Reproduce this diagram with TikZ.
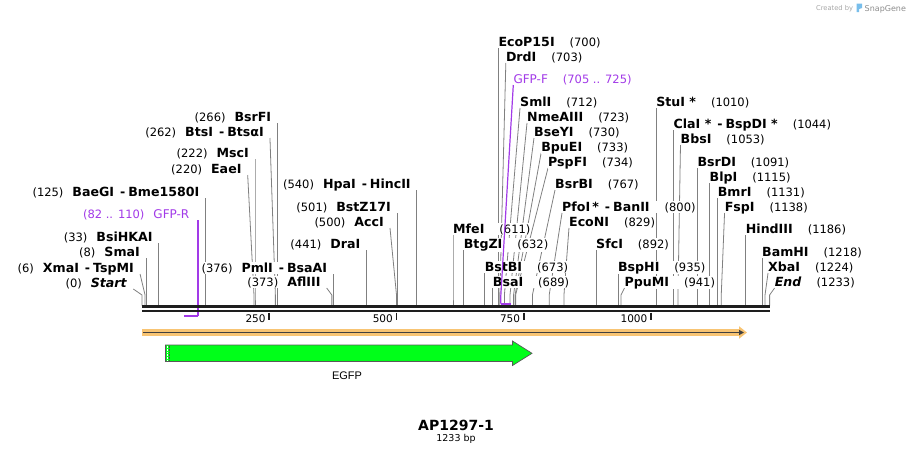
\documentclass[tikz,border=0pt]{standalone}
\usepackage{fontspec}
\setmainfont{DejaVu Sans}
\newfontfamily\featfont{Liberation Sans}
\usetikzlibrary{arrows.meta,positioning}
\pgfdeclarelayer{bg}
\pgfsetlayers{bg,main}
\definecolor{cutgray}{RGB}{128,128,128}
\definecolor{primerpurple}{RGB}{162,58,232}
\definecolor{egfpgreen}{RGB}{0,255,25}
\definecolor{bandorange}{RGB}{248,196,115}
\definecolor{dnablack}{RGB}{30,30,30}
\definecolor{logoblue}{RGB}{120,190,235}
\tikzset{
  enzlbl/.style={inner xsep=0pt, inner ysep=0.8pt, fill=white, font=\fontsize{11.5}{13}\selectfont},
  cutline/.style={draw=cutgray, line width=0.8pt},
  primerline/.style={draw=primerpurple, line width=1.2pt},
  primerbar/.style={draw=primerpurple, line width=2pt},
  dnastrand/.style={draw=dnablack},
  ticklbl/.style={inner sep=0pt, font=\fontsize{10.5}{12}\selectfont},
}
\newcommand{\enz}[1]{{\fontsize{12.6}{14}\selectfont\bfseries #1}}
\newcommand{\isosep}{\hspace{6pt}-\hspace{3pt}}
% site label left of its line: id, bp, x offset of the label end, baseline, name
\newcommand{\siteL}[5]{%
  \pgfmathsetmacro{\sx}{142+0.509*#2}%
  \coordinate (#1-s) at (\sx,305.5);
  \coordinate (#1-b) at (\sx,295);
  \coordinate (#1-a) at ({\sx+#3},{#4+2});
  \node[enzlbl, anchor=base east, xshift=-6pt, yshift=2pt] (#1) at (#1-a) {(#2)\hspace{9pt}\enz{#5}};
  \begin{pgfonlayer}{bg}\draw[cutline] (#1-a) -- (#1-b) -- (#1-s);\end{pgfonlayer}
}
% site label right of its line
\newcommand{\siteR}[5]{%
  \pgfmathsetmacro{\sx}{142+0.509*#2}%
  \coordinate (#1-s) at (\sx,305.5);
  \coordinate (#1-b) at (\sx,295);
  \coordinate (#1-a) at ({\sx+#3},{#4+2});
  \node[enzlbl, anchor=base west, yshift=2pt] (#1) at (#1-a) {\enz{#5}\hspace{15pt}(#2)};
  \begin{pgfonlayer}{bg}\draw[cutline] (#1-a) -- (#1-b) -- (#1-s);\end{pgfonlayer}
}

\begin{document}
\begin{tikzpicture}[x=1pt, y=-1pt]
  \useasboundingbox (0,0) rectangle (913,456);

  % credit
  \node[inner sep=0pt, anchor=base west, font=\fontsize{6.7}{8}\selectfont, text=black!35] (credit) at (816,10.5) {Created by};
  \fill[logoblue] (856.5,3.5) -- (862,3.5) -- (862,8) -- (859,9) -- (859,12) -- (856.5,12) -- cycle;
  \node[inner sep=0pt, anchor=base west, font=\fontsize{8}{9}\selectfont, text=black!45] (snapgene) at (864.5,11) {SnapGene};

  % cut sites, left side
  \siteL{startsite}{0}{-8.7}{287}{\textit{Start}}
  \siteL{xmai}{6}{-5}{272}{XmaI\isosep TspMI}
  \siteL{smai}{8}{0}{256}{SmaI}
  \siteL{bsihkai}{33}{0}{241}{BsiHKAI}
  \siteL{baegi}{125}{0}{196}{BaeGI\isosep Bme1580I}
  \siteL{eaei}{220}{-6.3}{173}{EaeI}
  \siteL{msci}{222}{0}{157}{MscI}
  \siteL{btsi}{262}{-5.4}{136}{BtsI\isosep BtsαI}
  \siteL{bsrfi}{266}{0}{121}{BsrFI}
  \siteL{pmli}{376}{0}{272}{PmlI\isosep BsaAI}
  \siteL{afliii}{373}{-5.2}{286}{AflIII}
  \siteL{drai}{441}{0}{248}{DraI}
  \siteL{acci}{500}{-6.5}{226}{AccI}
  \siteL{bstz}{501}{0}{211}{BstZ17I}
  \siteL{hpai}{540}{0}{188}{HpaI\isosep HincII}

  % cut sites, right side
  \siteR{ecop}{700}{0}{46}{EcoP15I}
  \siteR{drdi}{703}{6}{61}{DrdI}
  \siteR{smli}{712}{15.6}{106}{SmlI}
  \siteR{nmea}{723}{17}{121}{NmeAIII}
  \siteR{bseyi}{730}{20.4}{136}{BseYI}
  \siteR{bpuei}{733}{26}{151}{BpuEI}
  \siteR{pspfi}{734}{32.4}{166}{PspFI}
  \siteR{bsrbi}{767}{22.6}{188}{BsrBI}
  \siteR{pfoi}{800}{12.8}{211}{PfoI\,*\isosep BanII}
  \siteR{econi}{829}{5}{226}{EcoNI}
  \siteR{mfei}{611}{0}{233}{MfeI}
  \siteR{btgzi}{632}{0}{248}{BtgZI}
  \siteR{sfci}{892}{0}{248}{SfcI}
  \siteR{bstbi}{673}{0}{271}{BstBI}
  \siteR{bsai}{689}{0}{286}{BsaI}
  \siteR{bsphi}{935}{0}{271}{BspHI}
  \siteR{ppumi}{941}{3.5}{286}{PpuMI}
  \siteR{stui}{1010}{0}{106}{StuI *}
  \siteR{clai}{1044}{0}{128}{ClaI *\isosep BspDI *}
  \siteR{bbsi}{1053}{2.5}{143}{BbsI}
  \siteR{bsrdi}{1091}{0}{166}{BsrDI}
  \siteR{blpi}{1115}{0}{181}{BlpI}
  \siteR{bmri}{1131}{0}{196}{BmrI}
  \siteR{fspi}{1138}{3.3}{211}{FspI}
  \siteR{hindiii}{1186}{0}{233}{HindIII}
  \siteR{bamhi}{1218}{0}{256}{BamHI}
  \siteR{xbai}{1224}{3}{271}{XbaI}
  \siteR{endsite}{1233}{5}{286}{\textit{End}}

  % primers
  \node[enzlbl, anchor=base east, text=primerpurple] (gfpr) at (189.5,218) {(82 .. 110)\hspace{9pt}{\fontsize{12}{14}\selectfont GFP-R}};
  \coordinate (gfpr-a) at (198,220);
  \coordinate (gfpr-s) at (198,315.5);
  \coordinate (gfpr-e) at (183.7,315.5);
  \draw[primerline] (gfpr-a) -- (gfpr-s);
  \draw[primerbar] (gfpr-s) -- (gfpr-e);
  \node[enzlbl, anchor=base west, text=primerpurple] (gfpf) at (513.3,83) {{\fontsize{12}{14}\selectfont GFP-F}\hspace{15pt}(705 .. 725)};
  \coordinate (gfpf-a) at (513.3,85);
  \coordinate (gfpf-b) at (500.8,296);
  \coordinate (gfpf-s) at (500.8,303.5);
  \coordinate (gfpf-e) at (511,303.5);
  \draw[primerline] (gfpf-a) -- (gfpf-b) -- (gfpf-s);
  \draw[primerbar] (gfpf-s) -- (gfpf-e);

  % DNA
  \draw[dnastrand, line width=2.4pt] (142,306.5) -- (770,306.5);
  \draw[dnastrand, line width=2pt] (142,311) -- (770,311);
  \foreach \t in {250,500,750,1000} {
    \pgfmathsetmacro{\tx}{142+0.509*\t}
    \draw[dnablack, line width=1.6pt] (\tx,312.5) -- (\tx,320);
    \node[ticklbl, anchor=base east] (tick\t) at (\tx-3.5,322) {\t};
  }

  % features
  \draw[bandorange, line width=6.5pt, -{Triangle[length=8pt, width=12pt]}] (142,332.5) -- (747,332.5);
  \draw[dnablack!85, line width=1.3pt, -{Triangle[length=5pt, width=5pt]}] (143,332.5) -- (744,332.5);
  \filldraw[fill=egfpgreen, draw=black!65, line width=0.7pt]
    (165.4,345) -- (512.5,345) -- (512.5,341) -- (532,353.3) -- (512.5,365.5) -- (512.5,361.5) -- (165.4,361.5) -- cycle;
  \draw[white, line width=0.6pt, densely dotted] (167.2,345.5) -- (167.2,361);
  \draw[black!70, line width=0.6pt, densely dotted] (168.8,345.5) -- (168.8,361);
  \node[inner sep=0pt, font=\featfont\fontsize{11}{13}\selectfont] (egfp) at (347,375.5) {EGFP};

  % title
  \node[inner sep=0pt, font=\fontsize{14}{16}\selectfont\bfseries] (title) at (456,425) {AP1297-1};
  \node[inner sep=0pt, font=\fontsize{9.5}{11}\selectfont, below=3.5pt of title] (size) {1233 bp};
\end{tikzpicture}
\end{document}
